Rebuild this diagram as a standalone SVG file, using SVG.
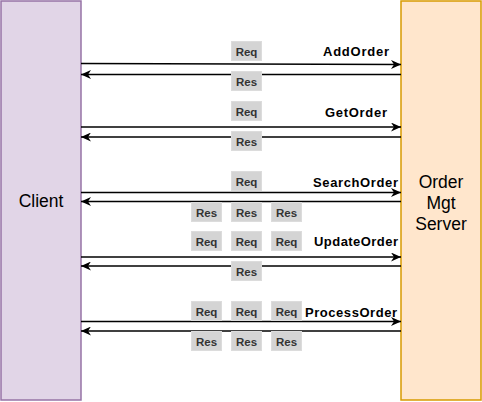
<svg xmlns="http://www.w3.org/2000/svg" width="482" height="402" viewBox="0 0 482 402">
<defs>
<marker id="ah" markerWidth="11" markerHeight="9" refX="10" refY="4.5" orient="auto" markerUnits="userSpaceOnUse">
<path d="M0,0 L10,4.5 L0,9 L3,4.5 Z" fill="#000"/>
</marker>
</defs>
<style>
.big{font-family:"Liberation Sans",Arial,sans-serif;font-size:17.5px;fill:#000;text-anchor:middle}
.op{font-family:"Liberation Sans",Arial,sans-serif;font-size:13px;font-weight:bold;fill:#000}
.lb rect{fill:#d4d4d4;stroke:#dcdcdc;stroke-width:1}
.lb text{font-family:"Liberation Sans",Arial,sans-serif;font-size:11.5px;font-weight:bold;fill:#333;text-anchor:middle}
.cn line{stroke:#000;stroke-width:1.5;fill:none}
</style>
<g id="client">
<rect x="1" y="1" width="80" height="399" fill="#e1d5e7" stroke="#9673a6" stroke-width="1.5"/>
<text class="big" x="41" y="207">Client</text>
</g>
<g id="server">
<rect x="401" y="1" width="80" height="399" fill="#ffe6cc" stroke="#d79b00" stroke-width="1.5"/>
<text class="big" x="441" y="188">Order</text>
<text class="big" x="441" y="209">Mgt</text>
<text class="big" x="441" y="230">Server</text>
</g>
<g id="connectors" class="cn">
<line x1="81" y1="63.5" x2="401" y2="64.5" marker-end="url(#ah)"/>
<line x1="401" y1="74.5" x2="81" y2="74.5" marker-end="url(#ah)"/>
<line x1="81" y1="127" x2="401" y2="127" marker-end="url(#ah)"/>
<line x1="401" y1="137" x2="81" y2="137" marker-end="url(#ah)"/>
<line x1="81" y1="192.5" x2="401" y2="192.5" marker-end="url(#ah)"/>
<line x1="401" y1="201.5" x2="81" y2="201.5" marker-end="url(#ah)"/>
<line x1="81" y1="257" x2="401" y2="257" marker-end="url(#ah)"/>
<line x1="401" y1="266" x2="81" y2="266" marker-end="url(#ah)"/>
<line x1="81" y1="321.5" x2="401" y2="321.5" marker-end="url(#ah)"/>
<line x1="401" y1="331" x2="81" y2="331" marker-end="url(#ah)"/>
</g>
<g id="op-labels">
<text class="op" x="323" y="56" textLength="66" lengthAdjust="spacing">AddOrder</text>
<text class="op" x="325" y="117" textLength="62" lengthAdjust="spacing">GetOrder</text>
<text class="op" x="313" y="187" textLength="85" lengthAdjust="spacing">SearchOrder</text>
<text class="op" x="314" y="246" textLength="84" lengthAdjust="spacing">UpdateOrder</text>
<text class="op" x="305" y="317" textLength="92" lengthAdjust="spacing">ProcessOrder</text>
</g>
<g id="msg-labels" class="lb">
<rect x="231.5" y="41.5" width="30" height="19"/><text x="246.5" y="55.5">Req</text>
<rect x="231.5" y="71.5" width="30" height="19"/><text x="246.5" y="85.5">Res</text>
<rect x="231.5" y="101.5" width="30" height="19"/><text x="246.5" y="115.5">Req</text>
<rect x="231.5" y="131.5" width="30" height="19"/><text x="246.5" y="145.5">Res</text>
<rect x="231.5" y="171.5" width="30" height="19"/><text x="246.5" y="185.5">Req</text>
<rect x="191.5" y="202.5" width="30" height="19"/><text x="206.5" y="216.5">Res</text>
<rect x="231.5" y="202.5" width="30" height="19"/><text x="246.5" y="216.5">Res</text>
<rect x="271.5" y="202.5" width="30" height="19"/><text x="286.5" y="216.5">Res</text>
<rect x="191.5" y="231.5" width="30" height="19"/><text x="206.5" y="245.5">Req</text>
<rect x="231.5" y="231.5" width="30" height="19"/><text x="246.5" y="245.5">Req</text>
<rect x="271.5" y="231.5" width="30" height="19"/><text x="286.5" y="245.5">Req</text>
<rect x="231.5" y="261.5" width="30" height="19"/><text x="246.5" y="275.5">Res</text>
<rect x="191.5" y="301.5" width="30" height="19"/><text x="206.5" y="315.5">Req</text>
<rect x="231.5" y="301.5" width="30" height="19"/><text x="246.5" y="315.5">Req</text>
<rect x="271.5" y="301.5" width="30" height="19"/><text x="286.5" y="315.5">Req</text>
<rect x="191.5" y="331.5" width="30" height="19"/><text x="206.5" y="345.5">Res</text>
<rect x="231.5" y="331.5" width="30" height="19"/><text x="246.5" y="345.5">Res</text>
<rect x="271.5" y="331.5" width="30" height="19"/><text x="286.5" y="345.5">Res</text>
</g>
</svg>
